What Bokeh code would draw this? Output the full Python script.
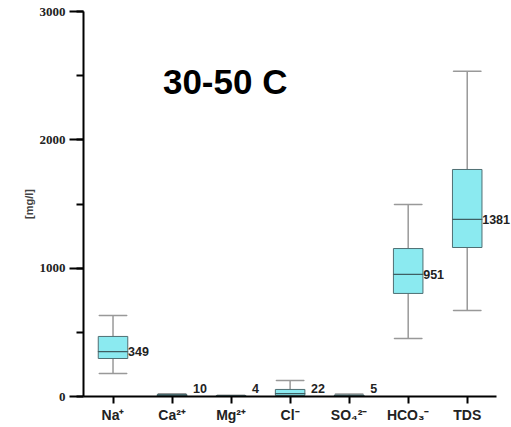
from bokeh.plotting import figure
from bokeh.models import ColumnDataSource, SingleIntervalTicker, FixedTicker, Label, LabelSet, Range1d
from bokeh.core.properties import value
from bokeh.embed import file_html
from bokeh.resources import INLINE

categories = ["Na⁺", "Ca²⁺", "Mg²⁺", "Cl⁻", "SO₄²⁻", "HCO₃⁻", "TDS"]
lower = [179, 2, 1, 3, 1, 452, 670]
q1 = [296, 4, 2, 8, 2, 803, 1161]
median = [349, 10, 4, 22, 5, 951, 1381]
q3 = [468, 16, 7, 55, 12, 1153, 1769]
upper = [631, 22, 10, 125, 20, 1496, 2535]
title_text = "30-50 C"
y_axis_title = "[mg/l]"

n = len(categories)
xpos = [i + 0.5 for i in range(n)]
label_y = [max(m, 62) for m in median]
label_off = [21 if m < 62 else 15 for m in median]

src = ColumnDataSource(dict(x=xpos, lower=lower, q1=q1, median=median, q3=q3, upper=upper,
                            ly=label_y, lt=[str(m) for m in median], lo=label_off))

p = figure(x_range=Range1d(0, n + 0.25), y_range=Range1d(0, 3000),
           width=511, height=425, output_backend="svg", toolbar_location=None,
           min_border_left=83, min_border_right=0, min_border_top=11, min_border_bottom=10)

p.grid.visible = False
p.outline_line_color = None
p.background_fill_color = "white"

# whiskers
p.segment(x0="x", y0="lower", x1="x", y1="q1", source=src, line_color="#999999", line_width=1.5)
p.segment(x0="x", y0="q3", x1="x", y1="upper", source=src, line_color="#999999", line_width=1.5)
p.rect(x="x", y="lower", width=0.47, height=0.01, source=src, fill_alpha=0,
       line_color="#999999", line_width=1.5, height_units="screen")
p.rect(x="x", y="upper", width=0.47, height=0.01, source=src, fill_alpha=0,
       line_color="#999999", line_width=1.5, height_units="screen")
# boxes
p.vbar(x="x", bottom="q1", top="q3", width=0.5, source=src,
       fill_color="#8beaf0", line_color="#4f6f73", line_width=1,
       hatch_pattern="checker", hatch_color="#c4f6f9", hatch_scale=3, hatch_alpha=0.6)
p.rect(x="x", y="median", width=0.5, height=0.01, source=src, fill_alpha=0,
       line_color="#3f5f63", line_width=1.2, height_units="screen")

# median labels
p.add_layout(LabelSet(x="x", y="ly", text="lt", x_offset="lo", source=src,
                      text_align="left", text_baseline="middle",
                      text_font=value("Liberation Sans"), text_font_style="bold",
                      text_font_size="12.5px", text_color="#222222"))

p.add_layout(Label(x=2.4, y=2455, text=title_text, text_align="center", text_baseline="middle",
                   text_font="Liberation Sans", text_font_style="bold", text_font_size="35px",
                   text_color="black"))

# y axis
ya = p.yaxis[0]
ya.ticker = SingleIntervalTicker(interval=1000, num_minor_ticks=2)
ya.axis_line_width = 2
ya.axis_line_color = "black"
ya.major_tick_out = 14
ya.major_tick_in = 0
ya.major_tick_line_width = 2
ya.minor_tick_out = 7
ya.minor_tick_in = 0
ya.minor_tick_line_width = 2
ya.major_label_standoff = 4
ya.major_label_text_font = "Liberation Serif"
ya.major_label_text_font_style = "bold"
ya.major_label_text_font_size = "13px"
ya.major_label_text_color = "#222222"
ya.axis_label = y_axis_title
ya.axis_label_text_font = "Liberation Sans"
ya.axis_label_text_font_style = "bold"
ya.axis_label_text_font_size = "11px"
ya.axis_label_standoff = 2

xa = p.xaxis[0]
xa.ticker = FixedTicker(ticks=xpos)
xa.major_label_overrides = {x: c for x, c in zip(xpos, categories)}
xa.bounds = (0, n)
xa.axis_line_width = 2
xa.axis_line_color = "black"
xa.major_tick_out = 7
xa.major_tick_in = 0
xa.major_tick_line_width = 2
xa.minor_tick_out = 0
xa.major_label_standoff = 3
xa.major_label_text_font = "Liberation Sans"
xa.major_label_text_font_style = "bold"
xa.major_label_text_font_size = "14px"
xa.major_label_text_color = "#222222"

open("out.html", "w").write(file_html(p, INLINE))
